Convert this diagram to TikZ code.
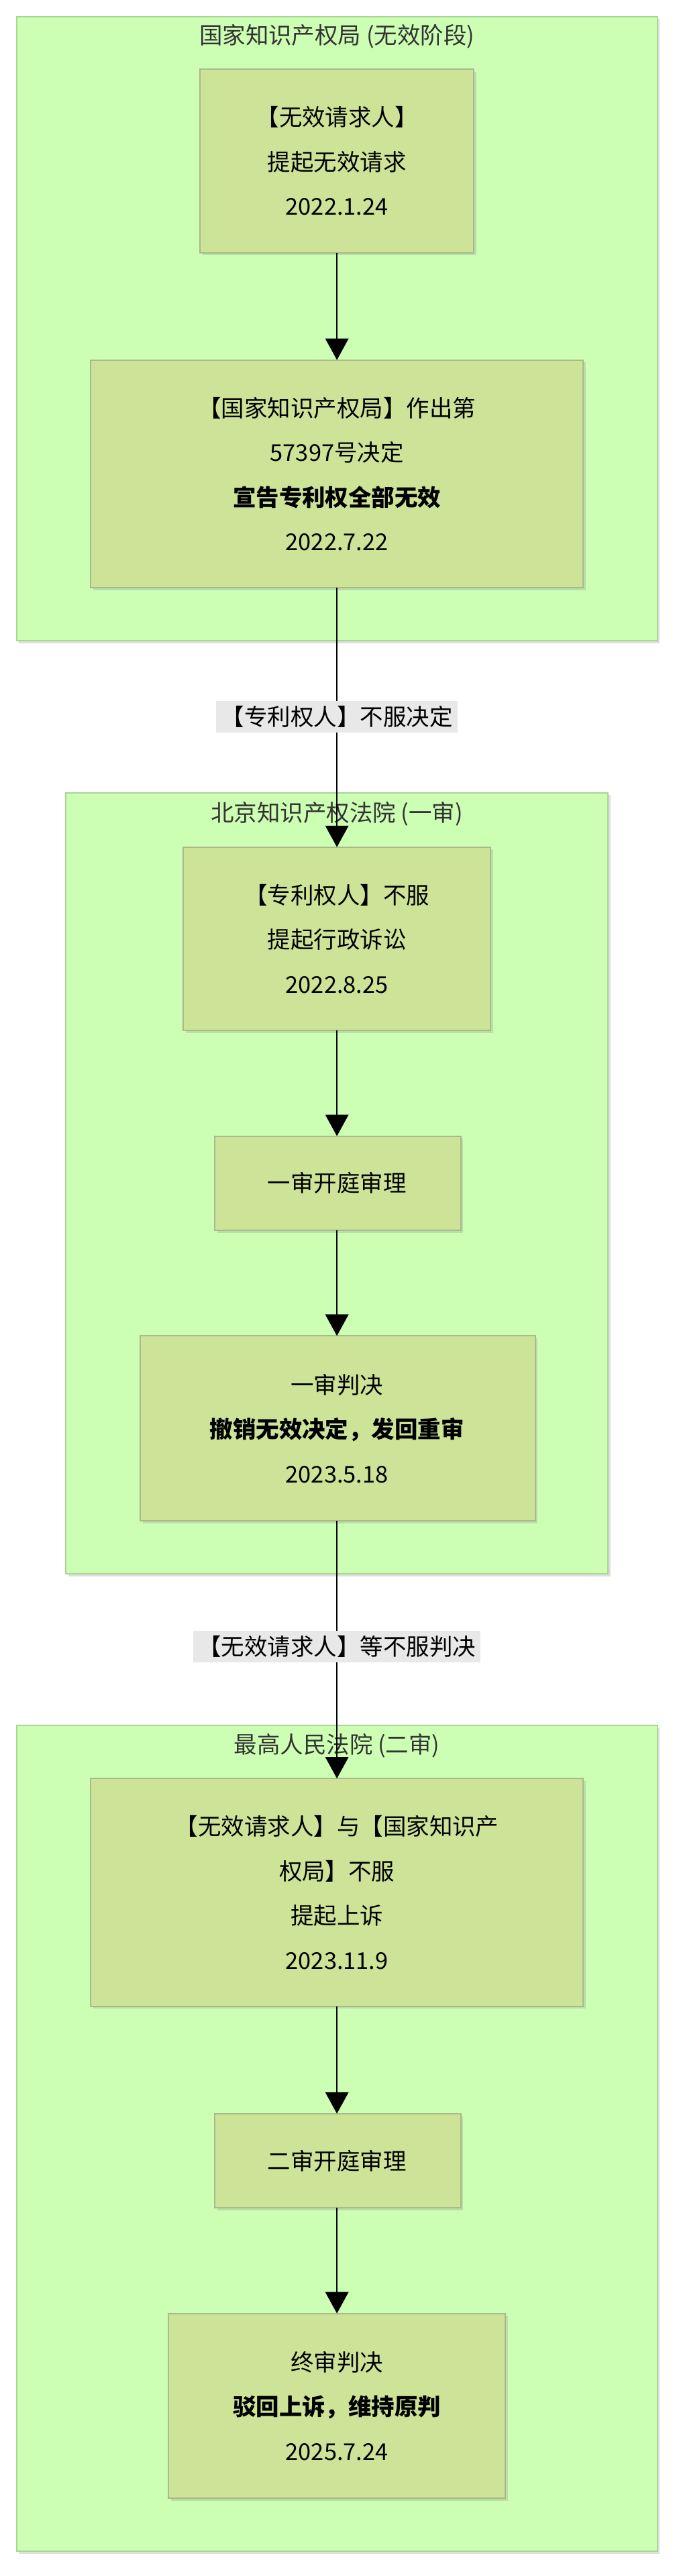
\documentclass[tikz,border=0pt]{standalone}
\usepackage{fontspec}
\setmainfont{Noto Sans CJK SC}
\usetikzlibrary{arrows.meta,shadows}
\definecolor{clfill}{HTML}{CCFFB3}
\definecolor{cldraw}{HTML}{AAD596}
\definecolor{ndfill}{HTML}{CDE498}
\definecolor{nddraw}{HTML}{A9B98C}
\definecolor{lbfill}{HTML}{E8E8E8}
\tikzset{
  x=1pt,y=-1pt,
  cluster/.style={draw=cldraw,fill=clfill,line width=0.8pt,drop shadow={shadow xshift=1.5pt,shadow yshift=-1.5pt,opacity=0.25}},
  ndbox/.style={draw=nddraw,fill=ndfill,line width=0.8pt,drop shadow={shadow xshift=1.5pt,shadow yshift=-1.5pt,opacity=0.25}},
  txt/.style={font=\fontsize{14}{27}\selectfont,align=center,inner sep=0},
  ttl/.style={font=\fontsize{14}{16}\selectfont,text=black!80,inner sep=0},
  edgelbl/.style={fill=lbfill,font=\fontsize{14}{16}\selectfont,inner xsep=3pt,inner ysep=3pt},
  arr/.style={-{Triangle[width=14pt,length=13pt]},line width=0.9pt}
}
\begin{document}
\begin{tikzpicture}
\useasboundingbox (0,0) rectangle (409.5,1560);
% clusters
\draw[cluster] (10,10) rectangle (398,388);
\node[ttl] (t1) at (204,22) {国家知识产权局 (无效阶段)};
\draw[cluster] (40,480) rectangle (368,953);
\node[ttl] (t2) at (204,493) {北京知识产权法院 (一审)};
\draw[cluster] (10,1045) rectangle (398,1545);
\node[ttl] (t3) at (204,1057) {最高人民法院 (二审)};
% nodes
\draw[ndbox] (121,42) rectangle (287,153);
\node[txt] (A) at (204,97.5) {【无效请求人】\\提起无效请求\\2022.1.24};
\coordinate (Ab) at (204,153);
\draw[ndbox] (55,218) rectangle (353,356);
\node[txt] (B) at (204,287) {【国家知识产权局】作出第\\57397号决定\\\textbf{宣告专利权全部无效}\\2022.7.22};
\coordinate (Bt) at (204,218); \coordinate (Bb) at (204,356);
\draw[ndbox] (111,513) rectangle (297,624);
\node[txt] (C) at (204,568.5) {【专利权人】不服\\提起行政诉讼\\2022.8.25};
\coordinate (Ct) at (204,513); \coordinate (Cb) at (204,624);
\draw[ndbox] (130,688) rectangle (279,745);
\node[txt] (D) at (204,716.5) {一审开庭审理};
\coordinate (Dt) at (204,688); \coordinate (Db) at (204,745);
\draw[ndbox] (85,809) rectangle (324,921);
\node[txt] (E) at (204,865) {一审判决\\\textbf{撤销无效决定，发回重审}\\2023.5.18};
\coordinate (Et) at (204,809); \coordinate (Eb) at (204,921);
\draw[ndbox] (55,1077) rectangle (353,1215);
\node[txt] (F) at (204,1146) {【无效请求人】与【国家知识产\\权局】不服\\提起上诉\\2023.11.9};
\coordinate (Ft) at (204,1077); \coordinate (Fb) at (204,1215);
\draw[ndbox] (130,1280) rectangle (279,1337);
\node[txt] (G) at (204,1308.5) {二审开庭审理};
\coordinate (Gt) at (204,1280); \coordinate (Gb) at (204,1337);
\draw[ndbox] (102,1401) rectangle (306,1513);
\node[txt] (H) at (204,1457) {终审判决\\\textbf{驳回上诉，维持原判}\\2025.7.24};
\coordinate (Ht) at (204,1401);
% edges
\draw[arr] (Ab) -- (Bt);
\draw[arr] (Bb) -- (Ct);
\draw[arr] (Cb) -- (Dt);
\draw[arr] (Db) -- (Et);
\draw[arr] (Eb) -- (Ft);
\draw[arr] (Fb) -- (Gt);
\draw[arr] (Gb) -- (Ht);
\node[edgelbl] (L1) at (204,434) {【专利权人】不服决定};
\node[edgelbl] (L2) at (204,997) {【无效请求人】等不服判决};
\end{tikzpicture}
\end{document}
